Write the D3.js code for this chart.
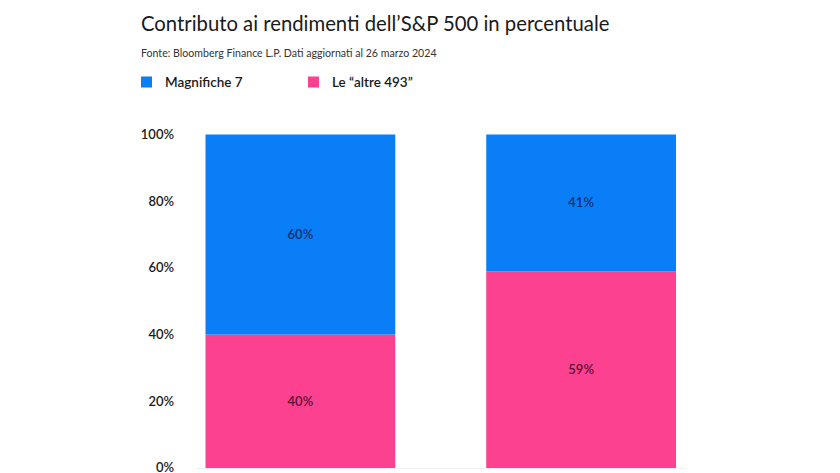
<!DOCTYPE html>
<html>
<head>
<meta charset="utf-8">
<script src="https://cdn.jsdelivr.net/npm/d3@7"></script>
<style>
  body { margin: 0; background: #fff; }
  svg { display: block; font-family: Lato, "Open Sans", sans-serif; }
</style>
</head>
<body>
<svg id="chart" width="840" height="473"></svg>
<script>
// data
const categories = ["Barra 1", "Barra 2"];
const series = ["Magnifiche 7", "Le \u201caltre 493\u201d"];
const magnifiche = [60, 41];
const altre = [40, 59];
const yTicks = [0, 20, 40, 60, 80, 100];

const colors = ["#0a7ef6", "#fb4190"];
const labelColors = ["#0c2f6b", "#5c0e34"];

const svg = d3.select("#chart");

const x = d3.scaleBand()
    .domain(categories)
    .range([205.5, 676])
    .paddingInner(0.324);

const y = d3.scaleLinear()
    .domain([0, 100])
    .range([468, 134.5]);

// title and source
svg.append("text")
    .attr("x", 141).attr("y", 31)
    .attr("font-size", 20.3)
    .attr("fill", "#1a1a1a")
    .text("Contributo ai rendimenti dell\u2019S&P 500 in percentuale");

svg.append("text")
    .attr("x", 141).attr("y", 56.5)
    .attr("font-size", 10.6)
    .attr("fill", "#333")
    .text("Fonte: Bloomberg Finance L.P. Dati aggiornati al 26 marzo 2024");

// legend
const legend = svg.append("g");
const legendX = [141, 308];
series.forEach((s, i) => {
  legend.append("rect")
      .attr("x", legendX[i]).attr("y", 76.5)
      .attr("width", 11).attr("height", 11)
      .attr("fill", colors[i]);
  legend.append("text")
      .attr("x", legendX[i] + 24).attr("y", 87)
      .attr("font-size", 13.5)
      .attr("font-weight", 600)
      .attr("fill", "#1a1a1a")
      .text(s);
});

// stacked bars
const rows = categories.map((c, i) => ({ cat: c, m: magnifiche[i], a: altre[i] }));
const stack = d3.stack().keys(["a", "m"])(rows);

const layer = svg.append("g")
  .selectAll("g")
  .data(stack)
  .join("g")
    .attr("fill", (d, i) => colors[1 - i]);

layer.selectAll("rect")
  .data(d => d)
  .join("rect")
    .attr("x", d => x(d.data.cat))
    .attr("width", x.bandwidth())
    .attr("y", d => y(d[1]))
    .attr("height", d => y(d[0]) - y(d[1]));

layer.selectAll("text")
  .data(d => d)
  .join("text")
    .attr("x", d => x(d.data.cat) + x.bandwidth() / 2)
    .attr("y", d => (y(d[0]) + y(d[1])) / 2 + 4.5)
    .attr("text-anchor", "middle")
    .attr("font-size", 13)
    .attr("font-weight", 600)
    .attr("fill", function () { return labelColors[1 - stack.indexOf(d3.select(this.parentNode).datum())]; })
    .text(d => (d[1] - d[0]) + "%");

// faint baseline
svg.append("line")
    .attr("x1", x(categories[0]) - 10).attr("x2", x(categories[1]) + x.bandwidth() + 10)
    .attr("y1", y(0) + 0.5).attr("y2", y(0) + 0.5)
    .attr("stroke", "#eef0f2");

// y axis, labels only
const yAxis = svg.append("g")
    .attr("transform", "translate(174,0)")
    .call(d3.axisLeft(y).tickValues(yTicks).tickSize(0).tickPadding(0).tickFormat(d => d + "%"));
yAxis.select(".domain").remove();
yAxis.selectAll("text")
    .attr("font-family", "Lato, 'Open Sans', sans-serif")
    .attr("font-size", 13)
    .attr("font-weight", 600)
    .attr("dy", "0.3em")
    .attr("fill", "#1a1a1a");
</script>
</body>
</html>
